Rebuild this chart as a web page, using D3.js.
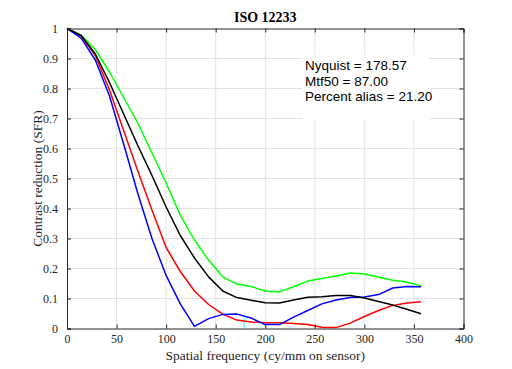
<!DOCTYPE html>
<html><head><meta charset="utf-8">
<script src="https://cdn.jsdelivr.net/npm/d3@7"></script>
<style>
body{margin:0;background:#fff;}
svg{display:block;}
</style></head>
<body><svg id="c" width="512" height="369"></svg>
<script>
const freq = [0, 14.29, 28.57, 42.86, 57.14, 71.43, 85.71, 100, 114.29, 128.57, 142.86, 157.14, 171.43, 185.71, 200, 214.29, 228.57, 242.86, 257.14, 271.43, 285.71, 300, 314.29, 328.57, 342.86, 357.14];
const redVals = [1, 0.975, 0.91, 0.795, 0.66, 0.525, 0.395, 0.27, 0.19, 0.125, 0.08, 0.048, 0.028, 0.022, 0.019, 0.019, 0.017, 0.013, 0.004, 0.003, 0.018, 0.04, 0.06, 0.077, 0.085, 0.089];
const greenVals = [1, 0.978, 0.93, 0.855, 0.77, 0.685, 0.585, 0.485, 0.378, 0.295, 0.228, 0.172, 0.148, 0.14, 0.125, 0.122, 0.139, 0.158, 0.167, 0.175, 0.185, 0.182, 0.172, 0.161, 0.155, 0.142];
const blueVals = [1, 0.968, 0.895, 0.775, 0.615, 0.45, 0.30, 0.177, 0.082, 0.007, 0.033, 0.047, 0.048, 0.035, 0.013, 0.013, 0.038, 0.06, 0.082, 0.095, 0.103, 0.105, 0.113, 0.135, 0.14, 0.139];
const lumVals = [1, 0.977, 0.915, 0.82, 0.715, 0.61, 0.51, 0.405, 0.31, 0.235, 0.172, 0.125, 0.103, 0.094, 0.086, 0.085, 0.095, 0.104, 0.106, 0.11, 0.11, 0.102, 0.09, 0.078, 0.064, 0.049];
const xTicks = [0, 50, 100, 150, 200, 250, 300, 350, 400];
const yTicks = [0, 0.1, 0.2, 0.3, 0.4, 0.5, 0.6, 0.7, 0.8, 0.9, 1];
const nyquist = 178.57;
const nyquistMark = [0, 0.035];
const annotations = ["Nyquist = 178.57", "Mtf50 = 87.00", "Percent alias = 21.20"];
const titleText = "ISO 12233";
const xLabel = "Spatial frequency (cy/mm on sensor)";
const yLabel = "Contrast reduction (SFR)";

const svg = d3.select("#c");
const m = {l: 67, t: 28.5, w: 396.5, h: 300};
const x = d3.scaleLinear().domain([0, 400]).range([m.l, m.l + m.w]);
const y = d3.scaleLinear().domain([0, 1]).range([m.t + m.h, m.t]);
const axisColor = "#262626";
const serif = "'Liberation Serif', 'DejaVu Serif', serif";

// grid
const g = svg.append("g");
g.selectAll(".gx").data(xTicks.slice(1, -1)).join("line")
  .attr("x1", d => x(d)).attr("x2", d => x(d)).attr("y1", m.t).attr("y2", m.t + m.h)
  .attr("stroke", "#e3e3e3").attr("stroke-width", 1);
g.selectAll(".gy").data(yTicks.slice(1, -1)).join("line")
  .attr("y1", d => y(d)).attr("y2", d => y(d)).attr("x1", m.l).attr("x2", m.l + m.w)
  .attr("stroke", "#e3e3e3").attr("stroke-width", 1);

// annotation box (white background)
svg.append("rect").attr("x", 302).attr("y", 55).attr("width", 126).attr("height", 65).attr("fill", "#fff");
svg.append("g").selectAll("text").data(annotations).join("text")
  .attr("x", 305).attr("y", (d, i) => 70 + i * 15.5)
  .attr("font-family", "'Liberation Sans', Arial, sans-serif").attr("font-size", 13.5)
  .attr("fill", "#000").text(d => d);

// nyquist marker
svg.append("line").attr("x1", x(nyquist)).attr("x2", x(nyquist))
  .attr("y1", y(nyquistMark[0])).attr("y2", y(nyquistMark[1]))
  .attr("stroke", "#00ffff").attr("stroke-width", 1);

// curves
const lineGen = d3.line().x((d, i) => x(freq[i])).y(d => y(d));
const series = [
  {v: redVals, c: "#ff0000"},
  {v: greenVals, c: "#00ff00"},
  {v: blueVals, c: "#0000ff"},
  {v: lumVals, c: "#000000"}
];
svg.append("g").selectAll("path").data(series).join("path")
  .attr("d", d => lineGen(d.v)).attr("fill", "none")
  .attr("stroke", d => d.c).attr("stroke-width", 1.5).attr("stroke-linejoin", "round");

// axes
const tl = 4;
const axB = d3.axisBottom(x).tickValues(xTicks).tickSize(-tl).tickPadding(6).tickFormat(d3.format("d"));
const axL = d3.axisLeft(y).tickValues(yTicks).tickSize(-tl).tickPadding(9).tickFormat(d => d === 0 || d === 1 ? String(d) : d3.format(".1f")(d));
const axT = d3.axisTop(x).tickValues(xTicks).tickSize(-tl).tickFormat("");
const axR = d3.axisRight(y).tickValues(yTicks).tickSize(-tl).tickFormat("");

function styleAxis(sel) {
  sel.selectAll("path").attr("stroke", axisColor);
  sel.selectAll("line").attr("stroke", axisColor);
  sel.selectAll("text").attr("fill", axisColor).attr("font-family", serif).attr("font-size", 12);
}
svg.append("g").attr("transform", `translate(0,${m.t + m.h})`).call(axB).call(styleAxis);
svg.append("g").attr("transform", `translate(${m.l},0)`).call(axL).call(styleAxis);
svg.append("g").attr("transform", `translate(0,${m.t})`).call(axT).call(styleAxis);
svg.append("g").attr("transform", `translate(${m.l + m.w},0)`).call(axR).call(styleAxis);

// title & labels
svg.append("text").attr("x", x(200)).attr("y", 21.5).attr("text-anchor", "middle")
  .attr("font-family", serif).attr("font-weight", "bold").attr("font-size", 14).attr("fill", "#000").text(titleText);
svg.append("text").attr("x", x(200)).attr("y", 359.5).attr("text-anchor", "middle")
  .attr("font-family", serif).attr("font-size", 13.5).attr("fill", axisColor).text(xLabel);
svg.append("text").attr("transform", `translate(42,${m.t + m.h / 2}) rotate(-90)`).attr("text-anchor", "middle")
  .attr("font-family", serif).attr("font-size", 13.5).attr("fill", axisColor).text(yLabel);
</script></body></html>
